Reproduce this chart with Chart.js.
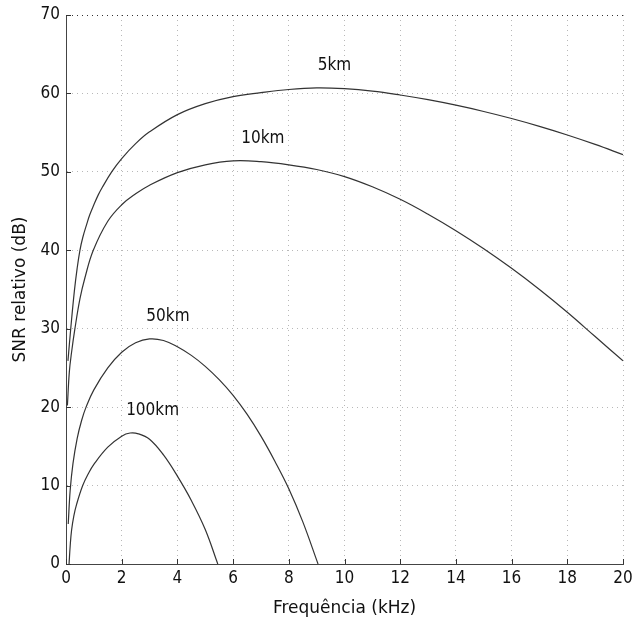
<!DOCTYPE html>
<html>
<head>
<meta charset="utf-8">
<title>SNR relativo</title>
<script src="https://cdn.jsdelivr.net/npm/chart.js@4.4.1/dist/chart.umd.min.js"></script>
<style>
  html, body { margin: 0; padding: 0; background: #fff; }
  #wrap { width: 632px; height: 628px; position: relative; }
</style>
</head>
<body>
<div id="wrap"><canvas id="snr"></canvas></div>
<script>
// curve values (frequency in kHz, SNR in dB)
const freq5km = [0.07, 0.17, 0.3, 0.4, 0.5, 0.6, 0.75, 0.85, 1, 1.15, 1.3, 1.64, 2, 2.5, 3, 4, 5, 6, 7, 8, 9, 10, 11, 12, 13, 14, 15, 16, 17, 18, 19, 20];
const snr5km  = [25.9, 30, 34.8, 37.7, 40, 41.6, 43.4, 44.5, 45.8, 47.0, 48.0, 50, 51.7, 53.6, 55.1, 57.3, 58.7, 59.6, 60.1, 60.5, 60.7, 60.6, 60.3, 59.8, 59.2, 58.5, 57.7, 56.8, 55.8, 54.7, 53.5, 52.2];

const freq10km = [0.05, 0.12, 0.2, 0.32, 0.5, 0.68, 0.98, 1.5, 2, 2.5, 3, 4, 5, 6, 7, 8, 9, 10, 11, 12, 13, 14, 15, 16, 17, 18, 19, 20];
const snr10km  = [20.2, 24.5, 27, 30, 33.8, 36.5, 40, 43.7, 45.8, 47.2, 48.3, 49.9, 50.9, 51.4, 51.3, 50.9, 50.3, 49.4, 48.1, 46.5, 44.6, 42.5, 40.2, 37.7, 35.0, 32.1, 29.0, 25.9];

const freq50km = [0.08, 0.15, 0.25, 0.4, 0.56, 0.72, 1, 1.5, 2, 2.5, 3, 3.5, 4, 4.5, 5, 5.5, 6, 6.5, 7, 7.5, 8, 8.5, 9.05];
const snr50km  = [5.1, 9.4, 12.8, 16, 18.3, 20, 22.2, 25, 27, 28.2, 28.7, 28.5, 27.7, 26.6, 25.2, 23.5, 21.5, 19.1, 16.3, 13.1, 9.6, 5.4, 0];

const freq100km = [0.11, 0.15, 0.2, 0.28, 0.38, 0.6, 0.8, 1, 1.5, 2, 2.3, 2.6, 3, 3.5, 4, 4.5, 5, 5.45];
const snr100km  = [0, 2.3, 4.3, 6.1, 7.6, 10, 11.5, 12.7, 14.9, 16.3, 16.7, 16.6, 15.9, 13.9, 11.2, 8.1, 4.4, 0];

const curveNames = ['5km', '10km', '50km', '100km'];
const xTicks = [0, 2, 4, 6, 8, 10, 12, 14, 16, 18, 20];
const yTicks = [0, 10, 20, 30, 40, 50, 60, 70];

// where each curve name is written (data coordinates)
const labelAt = [[9.64, 63.5], [7.07, 54.3], [3.66, 31.5], [3.11, 19.5]];

const narrow = "'Liberation Sans Narrow', 'DejaVu Sans Condensed', sans-serif";

function toPoints(xs, ys) {
  return xs.map((x, i) => ({ x: x, y: ys[i] }));
}

const series = [
  toPoints(freq5km, snr5km),
  toPoints(freq10km, snr10km),
  toPoints(freq50km, snr50km),
  toPoints(freq100km, snr100km),
];

// curve names + small inward ticks on the left and bottom axes
const extras = {
  id: 'extras',
  afterDatasetsDraw(chart) {
    const ctx = chart.ctx;
    const xs = chart.scales.x;
    const ys = chart.scales.y;
    const area = chart.chartArea;

    ctx.save();
    ctx.strokeStyle = '#333';
    ctx.lineWidth = 1;
    ctx.beginPath();
    xTicks.forEach((v) => {
      const px = Math.round(xs.getPixelForValue(v)) + 0.5;
      ctx.moveTo(px, area.bottom);
      ctx.lineTo(px, area.bottom - 5);
    });
    yTicks.forEach((v) => {
      const py = Math.round(ys.getPixelForValue(v)) + 0.5;
      ctx.moveTo(area.left, py);
      ctx.lineTo(area.left + 5, py);
    });
    ctx.stroke();

    ctx.fillStyle = '#111';
    ctx.font = '17px ' + narrow;
    ctx.textAlign = 'center';
    ctx.textBaseline = 'middle';
    curveNames.forEach((name, i) => {
      ctx.fillText(name, xs.getPixelForValue(labelAt[i][0]), ys.getPixelForValue(labelAt[i][1]));
    });
    ctx.restore();
  },
};

new Chart(document.getElementById('snr'), {
  type: 'line',
  data: {
    datasets: series.map((pts, i) => ({
      label: curveNames[i],
      data: pts,
      borderColor: '#333',
      borderWidth: 1.2,
      pointRadius: 0,
      fill: false,
      tension: 0.4,
    })),
  },
  options: {
    responsive: true,
    maintainAspectRatio: false,
    animation: false,
    layout: { padding: { top: 15, right: 9, left: 0, bottom: 0 } },
    plugins: {
      legend: { display: false },
      tooltip: { enabled: false },
    },
    scales: {
      x: {
        type: 'linear',
        min: 0,
        max: 20,
        afterFit: (scale) => {
          scale.height = 64;
          scale.paddingLeft = 0;
          scale.paddingRight = 0;
        },
        afterBuildTicks: (scale) => { scale.ticks = xTicks.map((v) => ({ value: v })); },
        ticks: {
          color: '#111',
          padding: 4,
          font: { family: narrow, size: 17 },
        },
        grid: {
          color: '#b8b8b8',
          drawTicks: false,
        },
        border: { color: '#444', width: 1, dash: [1, 4] },
        title: {
          display: true,
          text: 'Frequência (kHz)',
          color: '#111',
          font: { family: 'DejaVu Sans', size: 17 },
          padding: { top: 0, bottom: 9 },
        },
      },
      y: {
        min: 0,
        max: 70,
        afterFit: (scale) => {
          scale.width = 66;
          scale.paddingTop = 0;
          scale.paddingBottom = 0;
        },
        afterBuildTicks: (scale) => { scale.ticks = yTicks.map((v) => ({ value: v })); },
        ticks: {
          color: '#111',
          padding: 6,
          font: { family: narrow, size: 17 },
        },
        grid: {
          color: (c) => (c.tick && c.tick.value === 70 ? '#333' : '#b8b8b8'),
          drawTicks: false,
        },
        border: { color: '#444', width: 1, dash: [1, 4] },
        title: {
          display: true,
          text: 'SNR relativo (dB)',
          color: '#111',
          font: { family: 'DejaVu Sans', size: 17 },
          padding: { top: 10, bottom: 0 },
        },
      },
    },
  },
  plugins: [extras],
});
</script>
</body>
</html>
